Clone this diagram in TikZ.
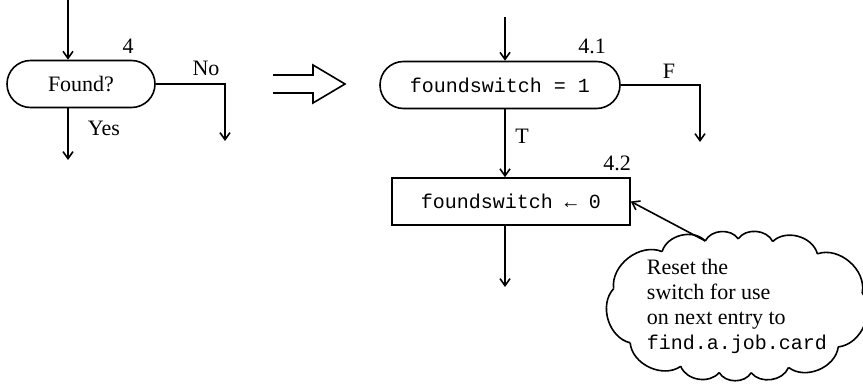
\documentclass[tikz,border=0pt]{standalone}
\usepackage{fontspec}
\setmainfont{Liberation Serif}
\setmonofont{Liberation Mono}
\usetikzlibrary{shapes.misc, shapes.geometric, arrows.meta, positioning, calc}

\begin{document}
\begin{tikzpicture}[x=0.5pt, y=-0.5pt,
  term/.style={rounded rectangle, draw, line width=0.8pt, minimum height=23.5pt, inner sep=0pt, font=\fontsize{11}{13}\selectfont},
  proc/.style={rectangle, draw, line width=0.8pt, minimum width=119pt, minimum height=23.5pt, font=\ttfamily\fontsize{10}{12}\selectfont},
  cloudnote/.style={ellipse, minimum width=112pt, minimum height=64pt, align=left, inner sep=0pt, font=\fontsize{11}{12.5}\selectfont},
  puff/.style={line width=0.8pt, bend right=60},
  lbl/.style={inner sep=0pt, font=\fontsize{11}{13}\selectfont},
  arrow/.style={-{Straight Barb[length=3.5pt,width=5pt]}, line width=0.8pt}
]
  \useasboundingbox (0,0) rectangle (863,385);

  % before: decision on Found?
  \node[term, minimum width=74pt] (found) at (81,84) {Found?};
  \coordinate (in1) at (68,0);
  \coordinate (no) at (225,141);
  \coordinate (yes) at (68,160);
  \node[lbl] (n4) at (128,46) {4};
  \node[lbl] (nolbl) at (206,68) {No};
  \node[lbl] (yeslbl) at (104,128) {Yes};

  \draw[arrow] (in1) -- (in1 |- found.north);
  \draw[arrow] (found.east) -| (no);
  \draw[arrow] (found.south -| in1) -- (yes);

  % hollow arrow
  \draw[line width=0.8pt, line join=miter] (273,75) -- (313,75) -- (313,65) -- (345,84) -- (313,103) -- (313,93) -- (273,93);

  % after: test on foundswitch
  \node[term, minimum width=120pt, font=\ttfamily\fontsize{10}{12}\selectfont] (test) at (500,85) {foundswitch = 1};
  \node[proc] (reset) at (511,201.5) {foundswitch \textleftarrow{} 0};
  \coordinate (in2) at (505,17);
  \coordinate (fls) at (700,142);
  \coordinate (out) at (505,287);
  \node[lbl] (n41) at (592,46) {4.1};
  \node[lbl] (flbl) at (669,71) {F};
  \node[lbl] (tlbl) at (522,136) {T};
  \node[lbl] (n42) at (617,163) {4.2};

  \draw[arrow] (in2) -- (in2 |- test.north);
  \draw[arrow] (test.east) -| (fls);
  \draw[arrow] (test.south -| in2) -- (reset.north -| in2);
  \draw[arrow] (reset.south -| in2) -- (out);

  % comment cloud
  \node[cloudnote] (why) at (737,306) {Reset the\\switch for use\\on next entry to\\{\ttfamily\fontsize{10}{12.5}\selectfont find.a.job.card}};
  \foreach \a [evaluate=\a as \s using 6+\a*360/13, evaluate=\a as \e using 6+(\a+1)*360/13] in {0,...,12}
    \draw[puff] (why.\s) to (why.\e);
  \draw[arrow] (why.116.8) -- (reset.east);
\end{tikzpicture}
\end{document}
